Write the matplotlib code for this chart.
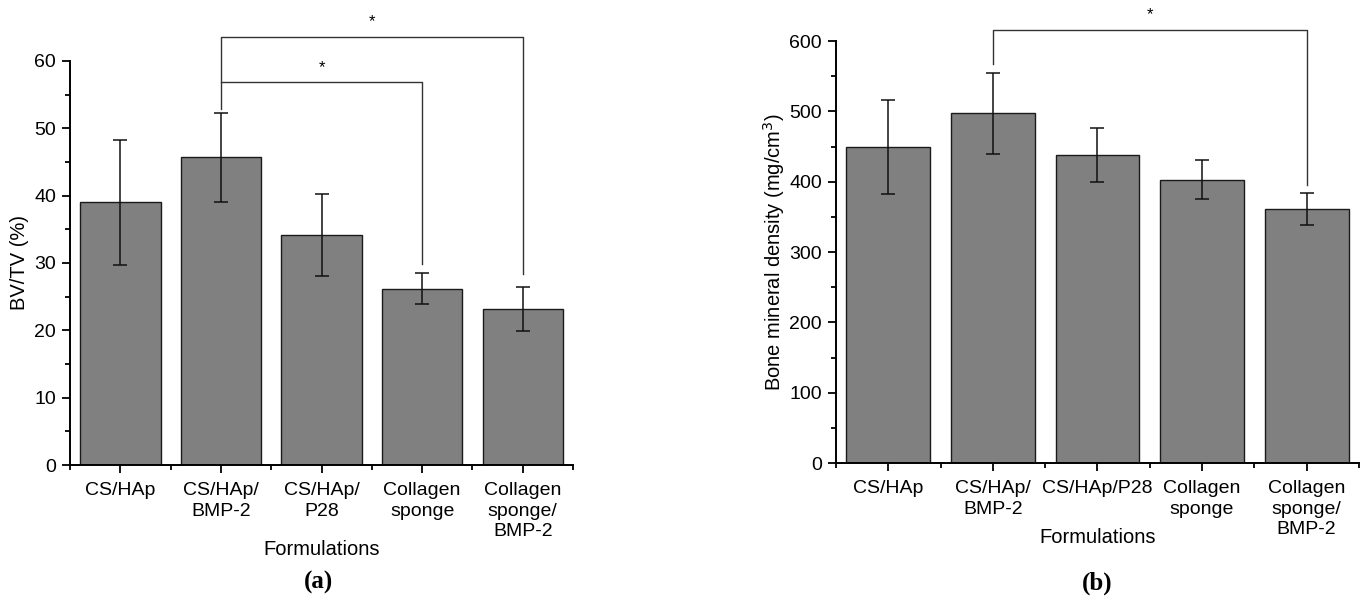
import matplotlib.pyplot as plt
import numpy as np
from matplotlib.ticker import MultipleLocator, FixedLocator

# --------------------------------------------------
# Data
# --------------------------------------------------
labels_a = ['CS/HAp', 'CS/HAp/\nBMP-2', 'CS/HAp/\nP28',
            'Collagen\nsponge', 'Collagen\nsponge/\nBMP-2']
bvtv = [39.0, 45.7, 34.1, 26.2, 23.2]
bvtv_err = [9.3, 6.6, 6.1, 2.3, 3.3]

labels_b = ['CS/HAp', 'CS/HAp/\nBMP-2', 'CS/HAp/P28',
            'Collagen\nsponge', 'Collagen\nsponge/\nBMP-2']
bmd = [449, 497, 438, 403, 361]
bmd_err = [67, 58, 39, 28, 23]

# significance brackets: (i, j, bar height, left leg end, right leg end, star y)
sig_a = [(1, 3, 56.9, 52.8, 29.9, 59.0),
         (1, 4, 63.5, 56.9, 28.3, 65.8)]
sig_b = [(1, 4, 616, 568, 396, 638)]

plt.rcParams['font.family'] = ['Liberation Sans', 'DejaVu Sans']

fig = plt.figure(figsize=(13.68, 5.99), dpi=100)
ax_a = fig.add_axes([0.0512, 0.2237, 0.3677, 0.6745])
ax_b = fig.add_axes([0.6111, 0.2270, 0.3823, 0.7045])


def draw_panel(ax, labels, vals, errs, sigs, ymax, ystep, yminor, ylabel):
    x = np.arange(len(vals))
    ax.bar(x, vals, width=0.8, color='#808080', edgecolor='#1a1a1a',
           linewidth=1.0, zorder=2)
    ax.errorbar(x, vals, yerr=errs, fmt='none', ecolor='#111111',
                elinewidth=1.1, capsize=5, capthick=1.1, zorder=3)

    for i, j, h, l_end, r_end, star_y in sigs:
        ax.plot([i, i, j, j], [l_end, h, h, r_end], color='#333333',
                linewidth=1.0, clip_on=False, zorder=4)
        ax.text((i + j) / 2, star_y, '*', ha='center', va='center',
                fontsize=12)

    ax.set_xlim(-0.5, len(vals) - 0.5)
    ax.set_ylim(0, ymax)
    ax.set_xticks(x)
    ax.set_xticklabels(labels, fontsize=14, linespacing=1.3)
    ax.xaxis.set_minor_locator(FixedLocator(np.arange(-0.5, len(vals), 1.0)))
    ax.yaxis.set_major_locator(MultipleLocator(ystep))
    ax.yaxis.set_minor_locator(MultipleLocator(yminor))
    ax.tick_params(axis='y', labelsize=14)

    ax.tick_params(which='major', length=6, width=1.3, direction='out', pad=4)
    ax.tick_params(axis='x', which='major', pad=6)
    ax.tick_params(which='minor', length=3.5, width=1.3, direction='out')

    for side in ['top', 'right']:
        ax.spines[side].set_visible(False)
    for side in ['left', 'bottom']:
        ax.spines[side].set_linewidth(1.4)

    ax.set_ylabel(ylabel, fontsize=14.5)
    ax.set_xlabel('Formulations', fontsize=14.5)


draw_panel(ax_a, labels_a, bvtv, bvtv_err, sig_a, 60, 10, 5, 'BV/TV (%)')
draw_panel(ax_b, labels_b, bmd, bmd_err, sig_b, 600, 100, 50,
           'Bone mineral density (mg/cm$^3$)')

ax_a.yaxis.set_label_coords(-0.082, 0.5)
ax_b.yaxis.set_label_coords(-0.094, 0.5)
ax_a.xaxis.set_label_coords(0.5, -0.185)
ax_b.xaxis.set_label_coords(0.5, -0.155)

# panel letters
fig.text(0.2325, 0.027, '(a)', ha='center', va='center', fontsize=18,
         fontweight='bold', family=['Liberation Serif', 'DejaVu Serif'])
fig.text(0.8020, 0.027, '(b)', ha='center', va='center', fontsize=18,
         fontweight='bold', family=['Liberation Serif', 'DejaVu Serif'])

plt.savefig('out.png', dpi=100)
